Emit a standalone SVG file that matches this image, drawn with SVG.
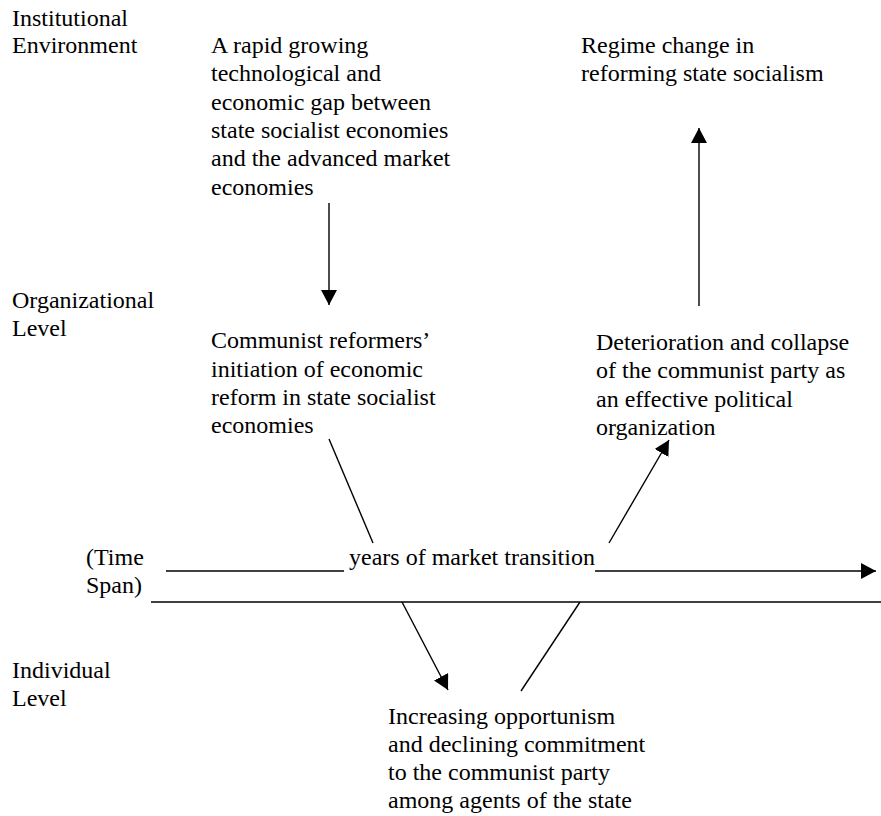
<svg xmlns="http://www.w3.org/2000/svg" width="881" height="816" viewBox="0 0 881 816">
<style>
text { font-family: "Liberation Serif", "Times New Roman", serif; font-size: 24px; fill: #000; }
.ln { stroke: #000; stroke-width: 1.4; fill: none; }
</style>
<defs>
<marker id="ah" markerUnits="userSpaceOnUse" markerWidth="15" markerHeight="16" viewBox="0 0 15 16" refX="15" refY="8" orient="auto">
<path d="M0,0 L15,8 L0,16 Z" fill="#000"/>
</marker>
</defs>
<rect width="881" height="816" fill="#fff"/>
<g font-family="'Liberation Serif', 'Times New Roman', serif" font-size="24" fill="#000">
<g id="labels">
<text x="12" y="26">Institutional</text>
<text x="12" y="53">Environment</text>
<text x="12" y="308">Organizational</text>
<text x="12" y="336">Level</text>
<text x="86" y="565">(Time</text>
<text x="86" y="593">Span)</text>
<text x="12" y="678">Individual</text>
<text x="12" y="706">Level</text>
</g>
<g id="node-gap">
<text x="211" y="53">A rapid growing</text>
<text x="211" y="81.3">technological and</text>
<text x="211" y="109.6">economic gap between</text>
<text x="211" y="137.9">state socialist economies</text>
<text x="211" y="166.2">and the advanced market</text>
<text x="211" y="194.5">economies</text>
</g>
<g id="node-regime">
<text x="581" y="53">Regime change in</text>
<text x="581" y="81.3">reforming state socialism</text>
</g>
<g id="node-reform">
<text x="211" y="348">Communist reformers’</text>
<text x="211" y="376.5">initiation of economic</text>
<text x="211" y="405">reform in state socialist</text>
<text x="211" y="433">economies</text>
</g>
<g id="node-collapse">
<text x="596" y="350">Deterioration and collapse</text>
<text x="596" y="378.3">of the communist party as</text>
<text x="596" y="406.6">an effective political</text>
<text x="596" y="435">organization</text>
</g>
<g id="node-time">
<text x="349" y="565">years of market transition</text>
</g>
<g id="node-individual">
<text x="388" y="724">Increasing opportunism</text>
<text x="388" y="752">and declining commitment</text>
<text x="388" y="780">to the communist party</text>
<text x="388" y="808">among agents of the state</text>
</g>
</g>
<g id="connectors">
<line class="ln" x1="329" y1="203" x2="329" y2="305" marker-end="url(#ah)"/>
<line class="ln" x1="699" y1="306" x2="699" y2="128" marker-end="url(#ah)"/>
<line class="ln" x1="329" y1="439" x2="373" y2="543"/>
<line class="ln" x1="609" y1="543" x2="669" y2="440" marker-end="url(#ah)"/>
<line class="ln" x1="166" y1="571" x2="344" y2="571"/>
<line class="ln" x1="595" y1="571" x2="876" y2="571" marker-end="url(#ah)"/>
<line class="ln" x1="151" y1="602" x2="881" y2="602"/>
<line class="ln" x1="402" y1="602" x2="448" y2="690" marker-end="url(#ah)"/>
<line class="ln" x1="580" y1="602" x2="521" y2="691"/>
</g>
</svg>
